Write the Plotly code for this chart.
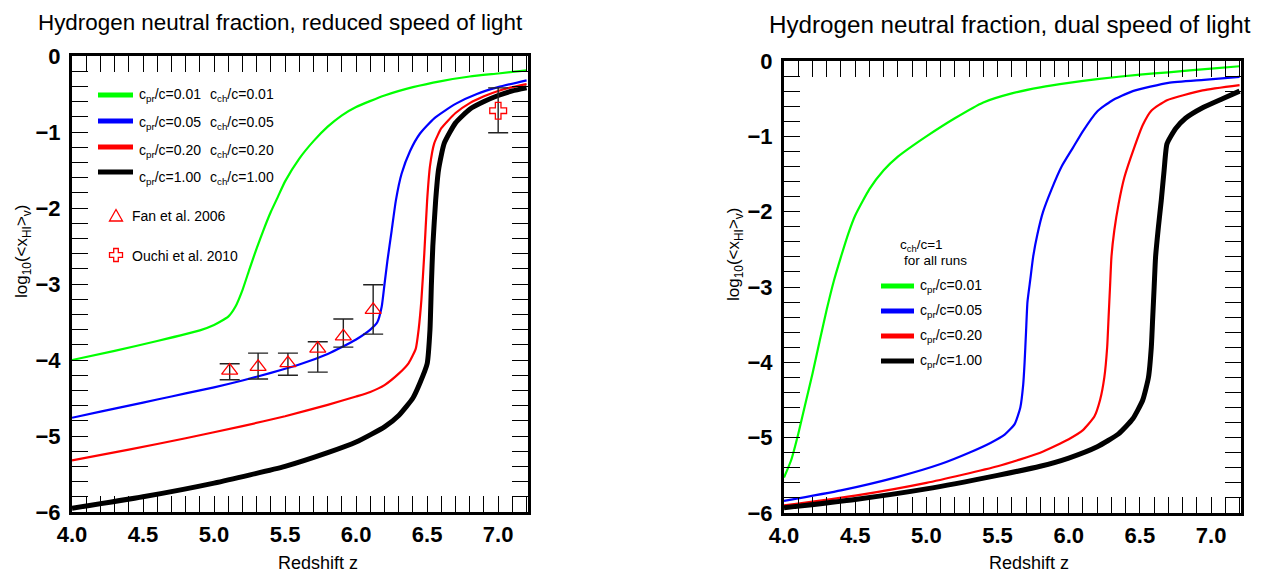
import plotly.graph_objects as go

W, H = 1261, 571
OFF = 8  # page body margin

# ---------------- data: reduced speed of light (left) ----------------
z_l_001 = [4.0, 4.3, 4.6, 4.9, 5.0, 5.1, 5.15, 5.2, 5.25, 5.3, 5.35, 5.4, 5.45, 5.5, 5.6, 5.7, 5.8, 5.9, 6.0, 6.2, 6.4, 6.6, 6.8, 7.0, 7.2]
y_l_001 = [-4.00, -3.88, -3.75, -3.61, -3.54, -3.43, -3.30, -3.08, -2.80, -2.53, -2.28, -2.05, -1.85, -1.65, -1.35, -1.12, -0.93, -0.78, -0.67, -0.52, -0.41, -0.33, -0.27, -0.23, -0.19]

z_l_005 = [4.0, 4.2, 4.4, 4.6, 4.8, 5.0, 5.2, 5.4, 5.6, 5.8, 5.9, 6.0, 6.1, 6.15, 6.18, 6.2, 6.22, 6.25, 6.28, 6.32, 6.38, 6.45, 6.55, 6.7, 6.85, 7.0, 7.2]
y_l_005 = [-4.76, -4.68, -4.60, -4.52, -4.44, -4.36, -4.27, -4.17, -4.06, -3.92, -3.83, -3.73, -3.60, -3.50, -3.30, -3.0, -2.7, -2.3, -1.9, -1.55, -1.25, -1.02, -0.82, -0.63, -0.50, -0.41, -0.32]

z_l_020 = [4.0, 4.4, 4.8, 5.2, 5.5, 5.8, 6.0, 6.1, 6.2, 6.3, 6.37, 6.42, 6.44, 6.46, 6.48, 6.5, 6.52, 6.55, 6.6, 6.7, 6.8, 6.9, 7.0, 7.1, 7.2]
y_l_020 = [-5.32, -5.18, -5.03, -4.87, -4.74, -4.59, -4.48, -4.42, -4.33, -4.18, -4.04, -3.85, -3.6, -3.2, -2.6, -1.9, -1.45, -1.15, -0.95, -0.75, -0.62, -0.53, -0.46, -0.41, -0.37]

z_l_100 = [4.0, 4.5, 5.0, 5.5, 5.8, 6.0, 6.2, 6.3, 6.4, 6.45, 6.5, 6.52, 6.53, 6.54, 6.56, 6.58, 6.62, 6.7, 6.8, 6.9, 7.0, 7.1, 7.2]
y_l_100 = [-5.95, -5.80, -5.62, -5.40, -5.22, -5.08, -4.88, -4.73, -4.50, -4.30, -4.05, -3.6, -3.0, -2.5, -1.9, -1.5, -1.15, -0.88, -0.70, -0.60, -0.52, -0.46, -0.42]

# Fan et al. 2006
fan_z = [5.11, 5.31, 5.52, 5.73, 5.91, 6.12]
fan_y = [-4.14, -4.09, -4.04, -3.85, -3.69, -3.34]
fan_up = [0.09, 0.18, 0.13, 0.09, 0.23, 0.33]
fan_dn = [0.12, 0.16, 0.16, 0.31, 0.14, 0.32]

# Ouchi et al. 2010
ouchi_z = [7.0]
ouchi_y = [-0.72]
ouchi_up = [0.30]
ouchi_dn = [0.29]

# ---------------- data: dual speed of light (right) ----------------
z_r_001 = [4.0, 4.05, 4.1, 4.15, 4.2, 4.25, 4.3, 4.35, 4.4, 4.45, 4.5, 4.6, 4.7, 4.8, 4.9, 5.0, 5.2, 5.4, 5.6, 5.8, 6.0, 6.2, 6.5, 6.7, 7.0, 7.2]
y_r_001 = [-5.53, -5.3, -4.95, -4.55, -4.15, -3.72, -3.3, -2.92, -2.6, -2.3, -2.05, -1.7, -1.45, -1.27, -1.13, -1.0, -0.76, -0.55, -0.43, -0.35, -0.29, -0.24, -0.18, -0.15, -0.10, -0.07]

z_r_005 = [4.0, 4.4, 4.8, 5.1, 5.3, 5.45, 5.55, 5.62, 5.66, 5.68, 5.69, 5.7, 5.71, 5.73, 5.75, 5.78, 5.82, 5.88, 5.95, 6.03, 6.1, 6.2, 6.3, 6.45, 6.7, 6.95, 7.2]
y_r_005 = [-5.84, -5.70, -5.52, -5.35, -5.20, -5.07, -4.96, -4.82, -4.6, -4.3, -4.0, -3.6, -3.2, -2.9, -2.6, -2.3, -2.0, -1.7, -1.4, -1.15, -0.93, -0.67, -0.53, -0.40, -0.29, -0.25, -0.21]

z_r_020 = [4.0, 4.5, 5.0, 5.5, 5.8, 6.0, 6.1, 6.18, 6.22, 6.25, 6.27, 6.28, 6.29, 6.3, 6.32, 6.35, 6.39, 6.46, 6.52, 6.58, 6.69, 6.94, 7.2]
y_r_020 = [-5.90, -5.77, -5.60, -5.38, -5.20, -5.02, -4.90, -4.72, -4.5, -4.2, -3.8, -3.4, -3.0, -2.6, -2.25, -1.9, -1.55, -1.15, -0.85, -0.66, -0.52, -0.39, -0.32]

z_r_100 = [4.0, 4.5, 5.0, 5.5, 5.8, 6.0, 6.2, 6.35, 6.45, 6.52, 6.56, 6.58, 6.59, 6.6, 6.61, 6.63, 6.65, 6.67, 6.69, 6.75, 6.82, 6.94, 7.08, 7.2]
y_r_100 = [-5.93, -5.82, -5.68, -5.50, -5.38, -5.27, -5.12, -4.95, -4.75, -4.5, -4.2, -3.8, -3.4, -3.0, -2.6, -2.2, -1.85, -1.45, -1.1, -0.9, -0.76, -0.62, -0.50, -0.40]

# labels
left_pr = ["c<sub>pr</sub>/c=0.01", "c<sub>pr</sub>/c=0.05", "c<sub>pr</sub>/c=0.20", "c<sub>pr</sub>/c=1.00"]
left_ch = ["c<sub>ch</sub>/c=0.01", "c<sub>ch</sub>/c=0.05", "c<sub>ch</sub>/c=0.20", "c<sub>ch</sub>/c=1.00"]
colors = ["#00ff00", "#0000ff", "#ff0000", "#000000"]
widths = [2.2, 2.2, 2.2, 5]
x_ticks = [4.0, 4.5, 5.0, 5.5, 6.0, 6.5, 7.0]
y_ticks = [0, -1, -2, -3, -4, -5, -6]


def fx(px):
    return (px - OFF) / W


def fy(py):
    return 1 - (py - OFF) / H


fig = go.Figure()

left_series = [(z_l_001, y_l_001), (z_l_005, y_l_005), (z_l_020, y_l_020), (z_l_100, y_l_100)]
right_series = [(z_r_001, y_r_001), (z_r_005, y_r_005), (z_r_020, y_r_020), (z_r_100, y_r_100)]

for (zz, yy), c, w in zip(left_series, colors, widths):
    fig.add_trace(go.Scatter(x=zz, y=yy, mode="lines", line=dict(color=c, width=w, shape="spline", smoothing=0.5),
                             showlegend=False, xaxis="x", yaxis="y", hoverinfo="skip"))

fig.add_trace(go.Scatter(x=fan_z, y=fan_y, mode="markers",
                         marker=dict(symbol="triangle-up-open", size=14, color="#ff0000", line=dict(width=1.3)),
                         error_y=dict(type="data", symmetric=False, array=fan_up, arrayminus=fan_dn,
                                      color="#222222", thickness=1.4, width=10),
                         showlegend=False, xaxis="x", yaxis="y"))
fig.add_trace(go.Scatter(x=ouchi_z, y=ouchi_y, mode="markers",
                         marker=dict(symbol="cross-open", size=14, color="#ff0000", line=dict(width=1.3)),
                         error_y=dict(type="data", symmetric=False, array=ouchi_up, arrayminus=ouchi_dn,
                                      color="#222222", thickness=1.4, width=10),
                         showlegend=False, xaxis="x", yaxis="y"))

for (zz, yy), c, w in zip(right_series, colors, widths):
    fig.add_trace(go.Scatter(x=zz, y=yy, mode="lines", line=dict(color=c, width=w, shape="spline", smoothing=0.5),
                             showlegend=False, xaxis="x2", yaxis="y2", hoverinfo="skip"))

tickfont = dict(family="Liberation Sans, Arial, sans-serif", size=22, color="black", weight="bold")


def xax(domain, anchor):
    return dict(domain=domain, anchor=anchor, range=[4.0, 7.21], tickmode="array", tickvals=x_ticks,
                ticktext=["%.1f" % v for v in x_ticks], ticks="inside", ticklen=16, tickwidth=1.3,
                tickcolor="black", showline=True, linewidth=3, linecolor="black", mirror="allticks",
                showgrid=False, zeroline=False, tickfont=tickfont, ticklabelstandoff=1, automargin=False,
                minor=dict(dtick=0.1, tick0=4.0, ticks="inside", ticklen=16, tickwidth=1.3, tickcolor="black",
                           showgrid=False))


def yax(domain, anchor):
    return dict(domain=domain, anchor=anchor, range=[-6, 0], tickmode="array", tickvals=y_ticks,
                ticks="inside", ticklen=16, tickwidth=1.3,
                tickcolor="black", showline=True, linewidth=3, linecolor="black", mirror="allticks",
                showgrid=False, zeroline=False, tickfont=tickfont, ticklabelstandoff=4, automargin=False,
                minor=dict(dtick=0.2, tick0=0, ticks="inside", ticklen=16, tickwidth=1.3, tickcolor="black",
                           showgrid=False))


fig.update_layout(
    width=W, height=H, margin=dict(l=0, r=0, t=0, b=0, pad=0),
    paper_bgcolor="white", plot_bgcolor="white", showlegend=False,
    xaxis=xax([fx(72), fx(528)], "y"),
    yaxis=yax([fy(512), fy(56)], "x"),
    xaxis2=xax([fx(784), fx(1241)], "y2"),
    yaxis2=yax([fy(513), fy(61)], "x2"),
)

font_r = "Liberation Sans, Arial, sans-serif"
ann = []


def text(px, py, s, size, xanchor="left", angle=0):
    ann.append(dict(x=fx(px), y=fy(py), xref="paper", yref="paper", text=s, showarrow=False,
                    xanchor=xanchor, yanchor="middle", textangle=angle,
                    font=dict(family=font_r, size=size, color="black")))


# titles
text(280, 22, "Hydrogen neutral fraction, reduced speed of light", 22.4, "center")
text(1010, 24, "Hydrogen neutral fraction, dual speed of light", 24.2, "center")
# axis titles
text(318, 563, "Redshift z", 18, "center")
text(1029, 563, "Redshift z", 18, "center")
ytitle = "log<sub>10</sub>(&lt;x<sub>HI</sub>&gt;<sub>v</sub>)"
text(23, 252, ytitle, 17, "center", -90)
text(735, 254, ytitle, 17, "center", -90)

shapes = []
# left legend
line_y = [95, 121, 147, 172]
txt_y = [95, 123, 151, 178]
for i in range(4):
    shapes.append(dict(type="line", xref="paper", yref="paper", x0=fx(98), x1=fx(133), y0=fy(line_y[i]),
                       y1=fy(line_y[i]), line=dict(color=colors[i], width=5)))
    text(137, txt_y[i], left_pr[i], 14)
    text(208, txt_y[i], left_ch[i], 14)

shapes.append(dict(type="path", xref="paper", yref="paper", xsizemode="pixel", ysizemode="pixel",
                   xanchor=fx(116), yanchor=fy(216), path="M -6.5 -5 L 6.5 -5 L 0 6.5 Z",
                   line=dict(color="#ff0000", width=1.3), fillcolor="rgba(0,0,0,0)"))
text(130, 216, "Fan et al. 2006", 14)
shapes.append(dict(type="path", xref="paper", yref="paper", xsizemode="pixel", ysizemode="pixel",
                   xanchor=fx(116), yanchor=fy(255),
                   path="M -2.3 6.5 L 2.3 6.5 L 2.3 2.3 L 6.5 2.3 L 6.5 -2.3 L 2.3 -2.3 L 2.3 -6.5 L -2.3 -6.5 "
                        "L -2.3 -2.3 L -6.5 -2.3 L -6.5 2.3 L -2.3 2.3 Z",
                   line=dict(color="#ff0000", width=1.3), fillcolor="rgba(0,0,0,0)"))
text(130, 256, "Ouchi et al. 2010", 14)

# right legend
text(898, 245, "c<sub>ch</sub>/c=1", 13.5)
text(902, 260, "for all runs", 13.5)
r_line_y = [286, 311, 336, 361]
for i in range(4):
    shapes.append(dict(type="line", xref="paper", yref="paper", x0=fx(881), x1=fx(914), y0=fy(r_line_y[i]),
                       y1=fy(r_line_y[i]), line=dict(color=colors[i], width=5)))
    text(918, r_line_y[i], left_pr[i], 14)

fig.update_layout(annotations=ann, shapes=shapes)
fig.write_html("out.html")
